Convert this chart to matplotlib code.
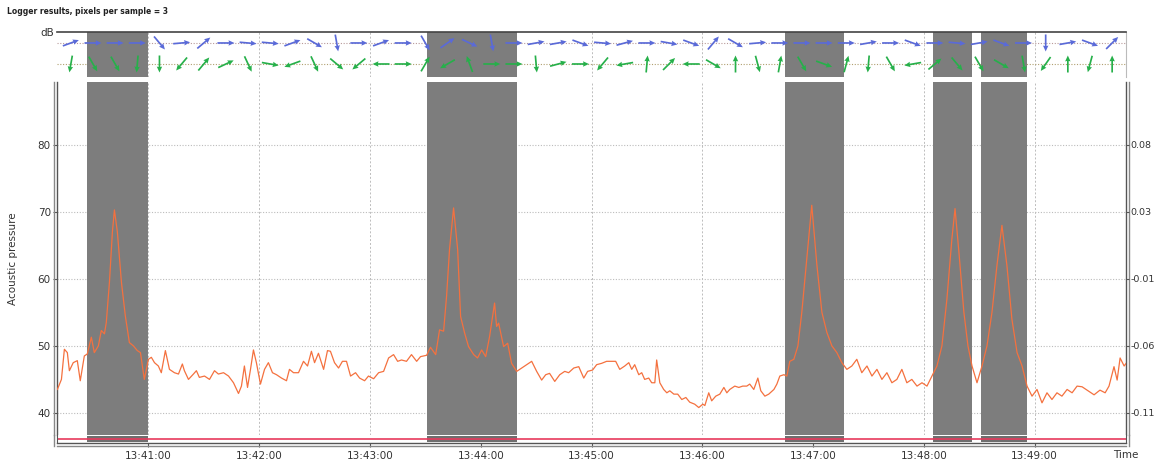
import numpy as np
import matplotlib.pyplot as plt
from matplotlib.transforms import offset_copy

plt.rcParams['font.family'] = 'DejaVu Sans'
plt.rcParams['font.size'] = 7

# seconds after 13:40:00 and sound level (dB)
t_sec = [10.7, 12.9, 14.5, 16.1, 17.2, 19.3, 21.5, 23.1, 25.3, 26.9, 29.1, 30.7, 32.9, 34.5,
         36.2, 37.2, 38.9, 40.5, 41.6, 43.2, 45.4, 47.5, 49.7, 51.9, 54.0, 55.7, 57.8, 60.0,
         61.6, 63.3, 65.4, 67.0, 69.2, 71.4, 74.1, 76.3, 78.4, 79.5, 81.7, 84.4, 86.0, 87.6,
         90.4, 93.1, 95.8, 97.9, 100.7, 103.4, 106.1, 108.8, 110.4, 112.0, 113.7, 115.3,
         116.9, 118.5, 120.7, 122.9, 125.0, 127.2, 129.4, 132.1, 134.8, 136.4, 138.6, 141.3,
         144.0, 146.2, 148.3, 150.0, 152.1, 154.9, 157.0, 158.6, 160.8, 163.0, 165.1, 167.3,
         169.5, 172.2, 174.4, 177.1, 179.2, 182.0, 184.7, 187.4, 190.1, 192.8, 195.0, 197.1,
         199.8, 202.5, 205.3, 207.4, 210.7, 212.8, 215.6, 217.7, 219.9, 221.5, 223.1, 225.3,
         227.5, 229.1, 231.3, 233.4, 236.2, 238.3, 240.5, 242.7, 244.8, 247.5, 248.6, 249.7,
         252.4, 254.6, 256.7, 259.5, 262.2, 264.9, 267.6, 270.3, 273.0, 275.2, 277.3, 280.1,
         282.8, 285.5, 287.6, 290.4, 293.1, 295.8, 297.9, 300.6, 302.8, 305.5, 308.2, 310.9,
         313.1, 315.3, 318.0, 320.2, 321.8, 323.4, 325.6, 327.2, 328.8, 331.0, 332.6, 334.3,
         335.3, 337.0, 339.1, 340.8, 342.4, 344.6, 346.7, 348.9, 351.1, 353.2, 355.9, 358.1,
         360.3, 361.4, 363.5, 365.1, 367.3, 369.5, 371.7, 373.3, 374.9, 377.6, 379.8, 381.9,
         384.1, 385.7, 387.9, 390.1, 391.7, 393.9, 396.0, 398.8, 400.4, 402.0, 404.2, 405.8,
         407.4, 409.6, 411.8, 413.9, 416.6, 419.3, 422.1, 424.8, 427.5, 430.2, 432.9, 435.6,
         438.3, 441.0, 443.7, 446.4, 449.2, 451.9, 454.6, 457.3, 460.0, 462.7, 465.4, 468.1,
         470.8, 473.5, 476.3, 479.0, 481.7, 484.4, 487.1, 489.8, 492.5, 495.2, 496.9, 499.0,
         501.7, 503.9, 506.1, 508.8, 511.5, 514.2, 516.9, 519.6, 522.3, 525.0, 527.7, 530.5,
         533.2, 535.9, 538.6, 541.3, 544.0, 546.7, 549.4, 552.1, 554.8, 557.6, 560.3, 563.0,
         565.7, 572.2, 575.4, 578.2, 580.3, 583.0, 584.7, 586.3, 588.5, 591.2]
spl_db = [43.5, 45.0, 49.5, 49.0, 46.3, 47.5, 47.8, 44.8, 48.5, 48.8, 51.3, 49.0, 50.0, 52.3,
          51.8, 53.5, 59.5, 67.0, 70.3, 67.0, 59.5, 54.5, 50.5, 50.0, 49.3, 49.0, 45.0, 48.0,
          48.3, 47.5, 47.0, 46.0, 49.3, 46.5, 46.0, 45.8, 47.3, 46.3, 45.0, 45.8, 46.3, 45.3,
          45.5, 45.0, 46.3, 45.8, 46.0, 45.5, 44.5, 42.9, 44.0, 47.0, 43.8, 46.5,
          49.4, 47.5, 44.3, 46.5, 47.5, 46.0, 45.7, 45.2, 44.8, 46.5, 46.0, 46.0,
          47.7, 47.0, 49.2, 47.5, 48.9, 46.5, 49.3, 49.2, 47.5, 46.7, 47.7, 47.7,
          45.5, 46.0, 45.2, 44.8, 45.5, 45.1, 46.0, 46.2, 48.2, 48.7, 47.7, 47.9,
          47.7, 48.7, 47.7, 48.4, 48.6, 49.8, 48.7, 52.4, 52.2, 57.4, 64.4, 70.6,
          64.4, 54.4, 51.9, 49.9, 48.7, 48.2, 49.4, 48.4, 51.4, 56.4, 52.9, 53.4,
          49.9, 50.4, 47.4, 46.2, 46.7, 47.2, 47.7, 46.2, 44.9, 45.7, 45.9, 44.7,
          45.7, 46.2, 46.0, 46.7, 46.9, 45.2, 46.2, 46.4, 47.2, 47.4, 47.7, 47.7,
          47.7, 46.5, 47.0, 47.5, 46.5, 47.2, 45.7, 46.0, 45.0, 45.2, 44.5, 44.5,
          47.9, 44.5, 43.5, 43.0, 43.3, 42.8, 42.8, 42.0, 42.3, 41.6, 41.3, 40.8,
          41.3, 41.1, 43.0, 41.8, 42.5, 42.8, 43.8, 43.0, 43.5, 44.0, 43.8, 44.0,
          44.0, 44.3, 43.5, 45.2, 43.3, 42.5, 42.8, 43.5, 44.3, 45.5, 45.7, 45.5,
          47.7, 48.0, 50.0, 55.0, 63.0, 71.0, 62.0, 55.0, 52.0, 50.0, 49.0, 47.5,
          46.5, 47.0, 48.0, 46.0, 47.0, 45.5, 46.5, 45.0, 46.0, 44.5, 45.0, 46.5,
          44.5, 45.0, 44.0, 44.5, 44.0, 45.5, 47.0, 50.0, 57.0, 66.0, 70.5, 64.0,
          55.0, 50.0, 47.0, 44.5, 47.0, 50.0, 55.0, 62.0, 68.0, 62.0, 54.0, 49.0,
          47.0, 44.0, 42.5, 43.5, 41.5, 43.0, 42.0, 43.0, 42.5, 43.5, 43.0, 44.0,
          43.9, 42.7, 43.4, 43.0, 44.0, 46.9, 44.9, 48.2, 47.0, 48.0]

# marked events (start, end) in seconds after 13:40:00
events = [(27, 60), (211, 259.5), (405, 437), (485, 506), (511, 536)]

# direction samples, one every 12 s starting at 13:40:18 (degrees, 0 = right)
dir_blue = [20, 0, 0, 0, -50, 5, 40, 0, -5, -5, 20, -30, -80, 0, 20, 0,
            -60, 35, -25, -80, 0, 10, 10, -20, -5, 15, 0, -10, -20, 50, -30, 5,
            0, 0, 0, 0, 10, 0, -20, 0, -5, 10, -20, 0, -90, 10, -20, 45]
dir_green = [-100, -60, -60, -95, -90, -130, 50, 25, -65, -10, 200, -65, -40, 220, 180, 0,
             60, 210, 110, 0, 0, -85, 15, 0, 230, 190, 85, 45, 180, -30, 90, -75,
             80, -60, -20, 75, -95, -60, 190, 40, -50, -60, -30, -80, 235, 90, -105, 90]

minute_ticks = [60, 120, 180, 240, 300, 360, 420, 480, 540]
minute_labels = ['13:41:00', '13:42:00', '13:43:00', '13:44:00', '13:45:00',
                 '13:46:00', '13:47:00', '13:48:00', '13:49:00']
db_ticks = [40, 50, 60, 70, 80]
right_labels = ['-0.11', '-0.06', '-0.01', '0.03', '0.08']

xlim = (10.5, 589.5)
band_color = '#7d7d7d'
grid_col = '#bcbcbc'

fig = plt.figure(figsize=(11.55, 4.62), dpi=100)
W, H = 1155, 462

def box(x0, y0, x1, y1):
    return [x0 / W, 1 - y1 / H, (x1 - x0) / W, (y1 - y0) / H]

ax_top = fig.add_axes(box(57, 32, 1126, 77))
ax = fig.add_axes(box(57, 82, 1126, 435))
ax_bar = fig.add_axes(box(57, 435, 1126, 443))

# ---- direction panel
for a, b in events:
    ax_top.axvspan(a, b, color=band_color, lw=0, zorder=1)
for m in minute_ticks:
    ax_top.axvline(m, color=grid_col, lw=0.7, ls=(0, (2, 2)), zorder=0)
ax_top.axhline(0.756, color='#b89a9a', lw=0.8, ls=(0, (1, 1.5)), zorder=0)
ax_top.axhline(0.289, color='#b0a070', lw=0.8, ls=(0, (1, 1.5)), zorder=0)

arrow_t = 18 + 12 * np.arange(len(dir_blue))
for dirs, yrow, col in [(dir_blue, 0.756, '#5a6ad8'), (dir_green, 0.289, '#26b04a')]:
    ang = np.radians(dirs)
    ax_top.quiver(arrow_t, np.full(len(dirs), yrow), np.cos(ang), np.sin(ang),
                  color=col, pivot='middle', angles='uv', scale_units='inches',
                  scale=1 / 0.17, units='dots', width=1.7, headwidth=3.2,
                  headlength=3.5, headaxislength=3.2, zorder=3)
ax_top.set_xlim(*xlim)
ax_top.set_ylim(0, 1)
ax_top.set_xticks([])
ax_top.set_yticks([])
for s in ['left', 'bottom']:
    ax_top.spines[s].set_visible(False)
ax_top.spines['top'].set_color('#444444')
ax_top.spines['top'].set_linewidth(1.2)
ax_top.spines['right'].set_color('#bbbbbb')
fig.text(40 / W, 1 - 33 / H, 'dB', fontsize=7.5, color='#333333', va='center')

# ---- main level panel
for a, b in events:
    ax.axvspan(a, b, color=band_color, lw=0, zorder=2)
for m in minute_ticks:
    ax.axvline(m, color=grid_col, lw=0.7, ls=(0, (2, 2)), zorder=1)
for d in db_ticks:
    ax.axhline(d, color=grid_col, lw=0.8, ls=(0, (1, 1.5)), zorder=1)
ax.plot(t_sec, spl_db, color='#f4713f', lw=0.9, zorder=3)

ax.set_xlim(*xlim)
ax.set_ylim(36.7, 89.4)
ax.set_xticks([])
ax.set_yticks(db_ticks)
ax.tick_params(axis='y', length=3, width=0.8, color='#555555', labelsize=7.5,
               labelcolor='#333333', pad=1.5)
ax.spines['top'].set_visible(False)
ax.spines['bottom'].set_visible(False)
for s in ['left', 'right']:
    ax.spines[s].set_color('#555555')
    ax.spines[s].set_linewidth(1.0)
ax.set_ylabel('Acoustic pressure', fontsize=7.5, color='#333333', labelpad=14)

ax_r = ax.twinx()
ax_r.set_ylim(ax.get_ylim())
ax_r.set_yticks(db_ticks)
ax_r.set_yticklabels(right_labels)
ax_r.tick_params(axis='y', length=2, width=0.8, color='#555555', labelsize=6.8,
                 labelcolor='#333333', pad=1)
for s in ax_r.spines.values():
    s.set_visible(False)

# double frame lines on left/right
for xa, dx in [(0, -3), (1, 3)]:
    tr = offset_copy(ax.transAxes, fig=fig, x=dx, y=0, units='dots')
    ax.plot([xa, xa], [0, 1], color='#888888', lw=1.0, transform=tr, clip_on=False, zorder=5)
    trb = offset_copy(ax_bar.transAxes, fig=fig, x=dx, y=0, units='dots')
    ax_bar.plot([xa, xa], [-0.4, 1], color='#888888', lw=1.0, transform=trb, clip_on=False)

# ---- event strip with time axis
for a, b in events:
    ax_bar.axvspan(a, b, ymin=0.1, ymax=0.85, color='#6f6f6f', lw=0, zorder=1)
ax_bar.axhline(0.5, color='#e83a5c', lw=1.2, zorder=2)
ax_bar.set_xlim(*xlim)
ax_bar.set_ylim(0, 1)
ax_bar.set_yticks([])
ax_bar.set_xticks(minute_ticks)
ax_bar.set_xticklabels(minute_labels)
ax_bar.tick_params(axis='x', length=3, width=0.8, color='#555555', labelsize=7.5,
                   labelcolor='#333333', pad=3)
ax_bar.spines['top'].set_visible(False)
for s in ['left', 'right']:
    ax_bar.spines[s].set_color('#555555')
ax_bar.spines['bottom'].set_color('#555555')
ax_bar.spines['bottom'].set_linewidth(1.0)
trb = offset_copy(ax_bar.transAxes, fig=fig, x=0, y=-3, units='dots')
ax_bar.plot([0, 1], [0, 0], color='#888888', lw=1.0, transform=trb, clip_on=False)
fig.text(1126 / W, 1 - 455 / H, 'Time', fontsize=7.5, color='#333333', ha='center', va='center')

fig.text(7 / W, 1 - 12 / H, 'Logger results, pixels per sample = 3', fontsize=5.5,
         fontweight='bold', color='#222222', va='center')

fig.savefig('out.png', dpi=100)
